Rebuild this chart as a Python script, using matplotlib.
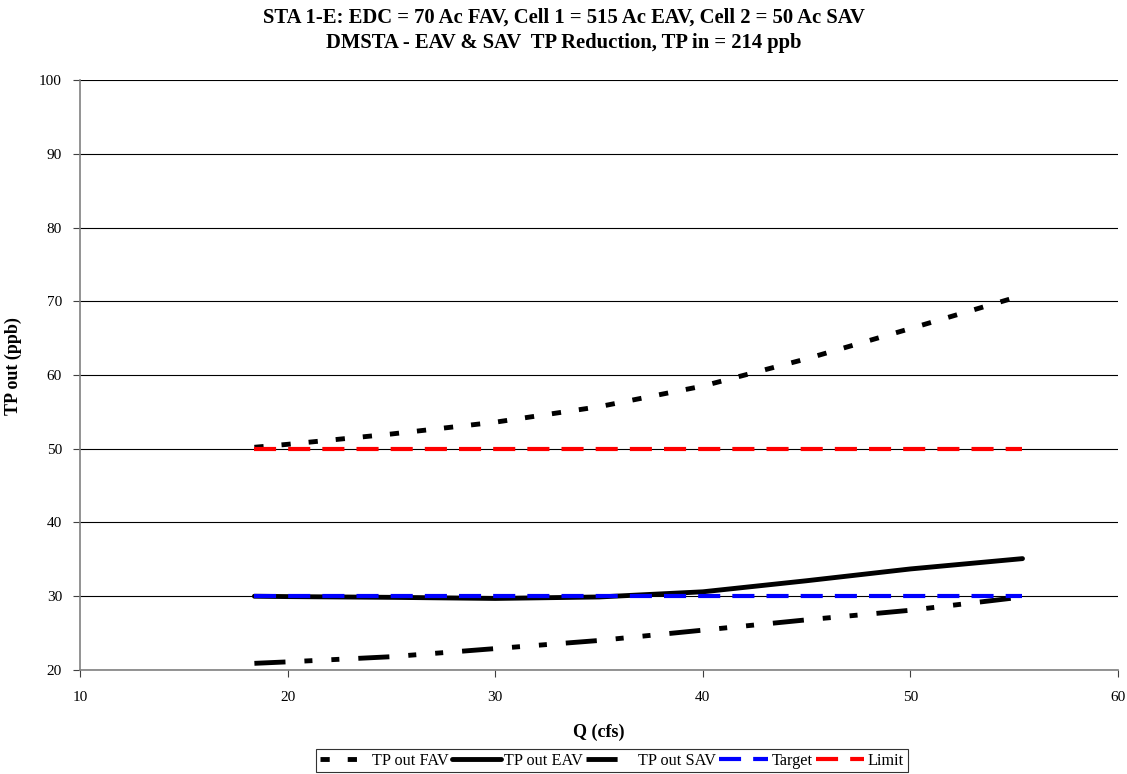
import matplotlib.pyplot as plt

plt.rcParams['font.family'] = ['Liberation Serif', 'DejaVu Serif']

q = [18.4, 20, 25, 30, 35, 40, 45, 50, 55.4]
tp_fav = [50.2, 50.6, 52.0, 53.6, 55.7, 58.5, 62.2, 66.3, 70.8]
tp_eav = [30.0, 29.95, 29.85, 29.7, 29.9, 30.6, 32.1, 33.7, 35.1]
tp_sav = [20.9, 21.1, 21.8, 22.9, 24.0, 25.4, 26.8, 28.1, 29.9]
target = [30] * len(q)
limit = [50] * len(q)

fig = plt.figure(figsize=(11.27, 7.74), dpi=100)
ax = fig.add_axes([0.071, 0.1344, 0.921, 0.7622])

ax.plot(q, tp_fav, color='black', lw=3.5, dashes=(1.9, 3.7), label='TP out FAV')
ax.plot(q, tp_eav, color='black', lw=3.5, solid_capstyle='round', label='TP out EAV')
ax.plot(q, tp_sav, color='black', lw=3.5, dashes=(6.4, 3.9, 1.65, 3.9, 1.65, 3.9), label='TP out SAV')
ax.plot(q, target, color='blue', lw=3, dashes=(5.3, 2.9), label='Target')
ax.plot(q, limit, color='red', lw=3, dashes=(5.3, 2.9), label='Limit')

ax.set_xlim(10, 60)
ax.set_ylim(20, 100)
ax.set_xticks(range(10, 61, 10))
ax.set_yticks(range(20, 101, 10))
ax.grid(axis='y', color='black', lw=0.8)
ax.set_axisbelow(True)
for s in ['top', 'right']:
    ax.spines[s].set_visible(False)
for s in ['left', 'bottom']:
    ax.spines[s].set_color('#808080')
    ax.spines[s].set_linewidth(1.2)
ax.tick_params(labelsize=11, length=5, color='#404040', pad=8)
ax.tick_params(axis='x', pad=10)

ax.set_xlabel('Q (cfs)', fontsize=13, fontweight='bold', labelpad=14)
ax.set_ylabel('TP out (ppb)', fontsize=13, fontweight='bold')
ax.yaxis.set_label_coords(-0.056, 0.515)
fig.suptitle('STA 1-E: EDC = 70 Ac FAV, Cell 1 = 515 Ac EAV, Cell 2 = 50 Ac SAV\n'
             'DMSTA - EAV & SAV  TP Reduction, TP in = 214 ppb',
             fontsize=14.9, fontweight='bold', y=0.99, linespacing=1.32)

leg = fig.legend(loc='lower center', bbox_to_anchor=(0.543, 0.002), ncol=5,
                 fontsize=11.7, frameon=True, fancybox=False, edgecolor='black',
                 handlelength=3.0, handletextpad=0.2, columnspacing=0.2,
                 borderpad=0.22, borderaxespad=0)
leg.get_frame().set_linewidth(0.8)

fig.savefig('out.png', dpi=100)
